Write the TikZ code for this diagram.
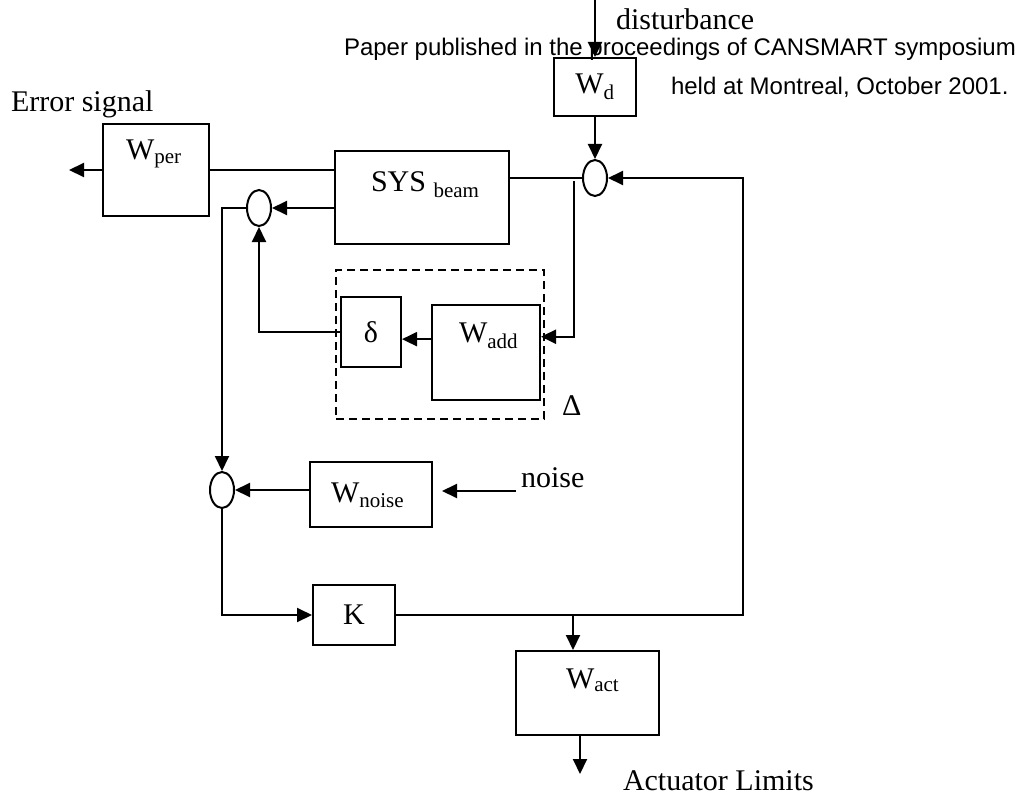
\documentclass[tikz,border=0pt]{standalone}
\usepackage{fontspec}
\setmainfont{Liberation Serif}
\newfontfamily\notefont{Liberation Sans}
\usepackage{tikz}
\usetikzlibrary{arrows.meta,shapes.geometric}

\begin{document}
\begin{tikzpicture}[x=1pt,y=-1pt,line width=2pt,>={Triangle[length=15pt,width=14pt]},
  blk/.style={draw,rectangle,inner sep=0pt,font=\fontsize{30}{36}\selectfont},
  sumj/.style={draw,ellipse,minimum width=24pt,minimum height=36pt,inner sep=0pt},
  lbl/.style={inner sep=0pt,anchor=base west,font=\fontsize{30}{36}\selectfont},
  note/.style={inner sep=0pt,anchor=base west,font=\notefont\fontsize{24}{29}\selectfont}]
\useasboundingbox (0,0) rectangle (1031,797);

% blocks
\node[blk,minimum width=106pt,minimum height=92pt] (wper) at (156,170) {};
\node[blk,minimum width=174pt,minimum height=93pt] (sys) at (422,197.5) {};
\node[blk,minimum width=82pt,minimum height=58pt] (wd) at (595,87) {W\textsubscript{d}};
\node[blk,minimum width=60pt,minimum height=70pt] (delta) at (371,332) {δ};
\node[blk,minimum width=108pt,minimum height=95pt] (wadd) at (486,352.5) {};
\node[blk,minimum width=122pt,minimum height=65pt] (wnoise) at (371,494) {};
\node[blk,minimum width=82pt,minimum height=60pt] (k) at (354,615) {K};
\node[blk,minimum width=143pt,minimum height=84pt] (wact) at (587.5,693) {};
\node[draw,dash pattern=on 8pt off 5pt,minimum width=208pt,minimum height=149pt,inner sep=0pt] (unc) at (440,344.5) {};

% summing junctions
\node[sumj] (s1) at (259,208) {};
\node[sumj] (s2) at (595,178) {};
\node[sumj] (s3) at (222,490) {};

% texts
\node[lbl] (wperlbl) at (125,160) {W\textsubscript{per}};
\node[lbl] (syslbl) at (370,191) {SYS \textsubscript{beam}};
\node[lbl] (waddlbl) at (458,342) {W\textsubscript{add}};
\node[lbl] (wnoiselbl) at (330,502) {W\textsubscript{noise}};
\node[lbl] (wactlbl) at (565,688) {W\textsubscript{act}};
\node[lbl] (errlbl) at (10,112) {Error signal};
\node[lbl] (distlbl) at (615,30) {disturbance};
\node[lbl] (noise) at (520,487) {noise};
\node[lbl] (actlbl) at (622,790) {Actuator Limits};
\node[lbl] (unclbl) at (561,415) {Δ};
\node[note] (note1) at (343,56) {Paper published in the proceedings of CANSMART symposium};
\node[note] (note2) at (670,95) {held at Montreal, October 2001.};

% signals
\coordinate (errout) at (69,170);
\coordinate (dist) at (595,0);
\coordinate (tap) at (574,181);
\coordinate (noisein) at (516,491);
\coordinate (fb) at (743,178);
\coordinate (tap2) at (573,615);
\coordinate (actout) at (580,774);
\draw[->] (wper.west) -- (errout);
\draw (wper.east) -- (sys.west |- wper.east);
\draw[->] (sys.west |- s1.east) -- (s1.east);
\draw[->] (s1.west) -| (s3.north);
\draw (sys.east |- s2.west) -- (s2.west);
\draw[->] (dist) -- (wd.north);
\draw[->] (wd.south) -- (s2.north);
\draw[->] (tap) |- (wadd.16);
\draw[->] (wadd.west |- delta.-13) -- (delta.-13);
\draw[->] (delta.west) -| (s1.south);
\draw[->,shorten >=9pt] (noisein) -- (noisein -| wnoise.east);
\draw[->] (wnoise.west |- s3.east) -- (s3.east);
\draw[->] (s3.south) |- (k.west);
\draw[->] (k.east) -| (fb) -- (s2.east);
\draw[->] (tap2) -- (tap2 |- wact.north);
\draw[->] (actout |- wact.south) -- (actout);
\end{tikzpicture}
\end{document}
